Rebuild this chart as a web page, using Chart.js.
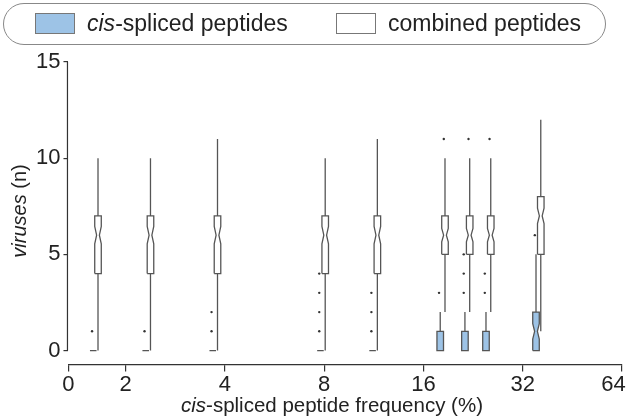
<!DOCTYPE html>
<html>
<head>
<meta charset="utf-8">
<script src="https://cdn.jsdelivr.net/npm/chart.js@4"></script>
<style>
html, body { margin: 0; padding: 0; background: #fff; overflow: hidden; }
#wrap { position: relative; width: 630px; height: 419px; font-family: "Liberation Sans", Arial, sans-serif; color: #222; }
#chart { position: absolute; left: 0; top: 0; }
#legend { position: absolute; left: 3px; top: 3px; width: 603px; height: 42px; box-sizing: border-box;
  border: 1.5px solid #888; border-radius: 21px; }
.sw { position: absolute; top: 9px; width: 40px; height: 21px; box-sizing: border-box; border: 1px solid #777; }
.lt { position: absolute; top: 6px; font-size: 23px; line-height: 26px; white-space: nowrap; }
</style>
</head>
<body>
<div id="wrap">
  <canvas id="chart" width="630" height="419"></canvas>
  <div id="legend">
    <div class="sw" style="left:31px;background:#9dc3e6"></div>
    <div class="lt" style="left:83px"><i>cis</i>-spliced peptides</div>
    <div class="sw" style="left:332px;background:#fff"></div>
    <div class="lt" style="left:384px">combined peptides</div>
  </div>
</div>
<script>
// frequency (%) of each virus group
const freqs = [1.65, 2.38, 3.8, 8.06, 11.6, 18.6, 22.1, 25.6, 36.3];
const tickValues = [0, 2, 4, 8, 16, 32, 64];
const zeroPos = 0.425; // where "0" sits on the log2 axis

// combined peptides
const combLow = [0, 0, 0, 0, 0, 2, 2, 2, 1];
const combQ1 = [4, 4, 4, 4, 4, 5, 5, 5, 5];
const combMed = [6, 6, 6, 6, 6, 6, 6, 6, 7];
const combQ3 = [7, 7, 7, 7, 7, 7, 7, 7, 8];
const combHigh = [10, 10, 11, 10, 11, 10, 10, 10, 12];
const combNotch = [0.45, 0.45, 0.45, 0.45, 0.45, 0.35, 0.35, 0.35, 0.4];
const combOutliers = [[], [], [], [], [], [11], [11], [11], []];

// cis-spliced peptides
const cisLow = [0, 0, 0, 0, 0, 0, 0, 0, 0];
const cisQ1 = [0, 0, 0, 0, 0, 0, 0, 0, 0];
const cisMed = [0, 0, 0, 0, 0, 0, 0, 0, 1];
const cisQ3 = [0, 0, 0, 0, 0, 1, 1, 1, 2];
const cisHigh = [0, 0, 0, 0, 0, 2, 2, 2, 5];
const cisNotch = [0, 0, 0, 0, 0, 0, 0, 0, 0.4];
const cisOutliers = [[1], [1], [1, 2], [1, 2, 3, 4], [1, 2, 3], [3], [3, 4, 5], [3, 4], [6]];

const BOX_HALF = 0.033, PINCH_HALF = 0.014, CIS_SHIFT = -0.048;
const STROKE = '#555';
const FAM = '"Liberation Sans", Arial, sans-serif';

function boxShape(c, q1, med, q3, notch) {
    const w = BOX_HALF, n = PINCH_HALF;
    return [
        {x: c - w, y: q1}, {x: c - w, y: med - notch}, {x: c - n, y: med}, {x: c - w, y: med + notch},
        {x: c - w, y: q3}, {x: c + w, y: q3}, {x: c + w, y: med + notch}, {x: c + n, y: med},
        {x: c + w, y: med - notch}, {x: c + w, y: q1}, {x: c - w, y: q1}
    ];
}

function seriesDatasets(shift, low, q1, med, q3, high, notch, outliers, fillColor, order) {
    const sets = [];
    const whisk = [];
    const dots = [];
    freqs.forEach((f, i) => {
        const c = Math.log2(f) + shift;
        whisk.push({x: c, y: low[i]}, {x: c, y: q1[i]}, {x: c, y: null},
                   {x: c, y: q3[i]}, {x: c, y: high[i]}, {x: c, y: null});
        outliers[i].forEach(v => dots.push({x: c - 0.012, y: v}));
        sets.push({
            type: 'scatter', data: boxShape(c, q1[i], med[i], q3[i], notch[i]),
            showLine: true, fill: 'shape', backgroundColor: fillColor,
            borderColor: STROKE, borderWidth: 1.3, pointRadius: 0, tension: 0, order: order
        });
    });
    sets.push({
        type: 'scatter', data: whisk, showLine: true, spanGaps: false,
        borderColor: STROKE, borderWidth: 1.3, pointRadius: 0, order: order + 1
    });
    sets.push({
        type: 'scatter', data: dots, pointRadius: 1.2, pointBorderWidth: 0,
        backgroundColor: '#333', order: order - 1
    });
    return sets;
}

const tickPositions = tickValues.map(v => v === 0 ? zeroPos : Math.log2(v));

const decor = {
    id: 'decor',
    afterDraw(chart) {
        const {ctx, chartArea} = chart;
        const y = chart.scales.y;
        ctx.save();
        ctx.strokeStyle = '#333';
        ctx.lineWidth = 1.2;
        const xl = chartArea.left - 1;
        ctx.beginPath();
        ctx.moveTo(xl, y.getPixelForValue(15));
        ctx.lineTo(xl, y.getPixelForValue(0));
        ctx.stroke();

        ctx.fillStyle = '#222';
        ctx.textBaseline = 'middle';
        // x title
        ctx.font = 'italic 20.5px ' + FAM;
        const a = ctx.measureText('cis').width;
        ctx.font = '20.5px ' + FAM;
        const b = ctx.measureText('-spliced peptide frequency (%)').width;
        let sx = 332 - (a + b) / 2;
        ctx.font = 'italic 20.5px ' + FAM;
        ctx.fillText('cis', sx, 406);
        ctx.font = '20.5px ' + FAM;
        ctx.fillText('-spliced peptide frequency (%)', sx + a, 406);
        // y title
        ctx.translate(20, 211);
        ctx.rotate(-Math.PI / 2);
        ctx.font = 'italic 20px ' + FAM;
        const c = ctx.measureText('viruses').width;
        ctx.font = '20px ' + FAM;
        const d = ctx.measureText(' (n)').width;
        sx = -(c + d) / 2;
        ctx.font = 'italic 20px ' + FAM;
        ctx.fillText('viruses', sx, 0);
        ctx.font = '20px ' + FAM;
        ctx.fillText(' (n)', sx + c, 0);
        ctx.restore();
    }
};

const datasets = [].concat(
    seriesDatasets(0, combLow, combQ1, combMed, combQ3, combHigh, combNotch, combOutliers, '#ffffff', 4),
    seriesDatasets(CIS_SHIFT, cisLow, cisQ1, cisMed, cisQ3, cisHigh, cisNotch, cisOutliers, '#9dc3e6', 1)
);

new Chart(document.getElementById('chart').getContext('2d'), {
    type: 'scatter',
    data: { datasets: datasets },
    plugins: [decor],
    options: {
        responsive: false,
        animation: false,
        layout: { padding: { top: 62, left: 33, right: 8, bottom: 21 } },
        plugins: { legend: { display: false }, tooltip: { enabled: false } },
        scales: {
            x: {
                type: 'linear', min: zeroPos, max: 6,
                afterBuildTicks: s => { s.ticks = tickPositions.map(v => ({value: v})); },
                afterFit: s => { s.paddingRight = 0; },
                ticks: {
                    autoSkip: false, maxRotation: 0, padding: 0, color: '#222',
                    font: { family: FAM, size: 22 },
                    // last label pulled in a little, as in the source figure
                    callback: (v, i) => i === tickValues.length - 1 ? tickValues[i] + ' \u2002' : String(tickValues[i])
                },
                grid: { drawOnChartArea: false, drawTicks: true, tickLength: 7, color: '#333', lineWidth: 1.2 },
                border: { display: true, color: '#333', width: 1.2 }
            },
            y: {
                min: -0.73, max: 15,
                afterBuildTicks: s => { s.ticks = [0, 5, 10, 15].map(v => ({value: v})); },
                ticks: {
                    padding: 3, color: '#222',
                    font: { family: FAM, size: 22 }
                },
                grid: { drawOnChartArea: false, drawTicks: true, tickLength: 5, color: '#333', lineWidth: 1.2 },
                border: { display: false }
            }
        }
    }
});
</script>
</body>
</html>
